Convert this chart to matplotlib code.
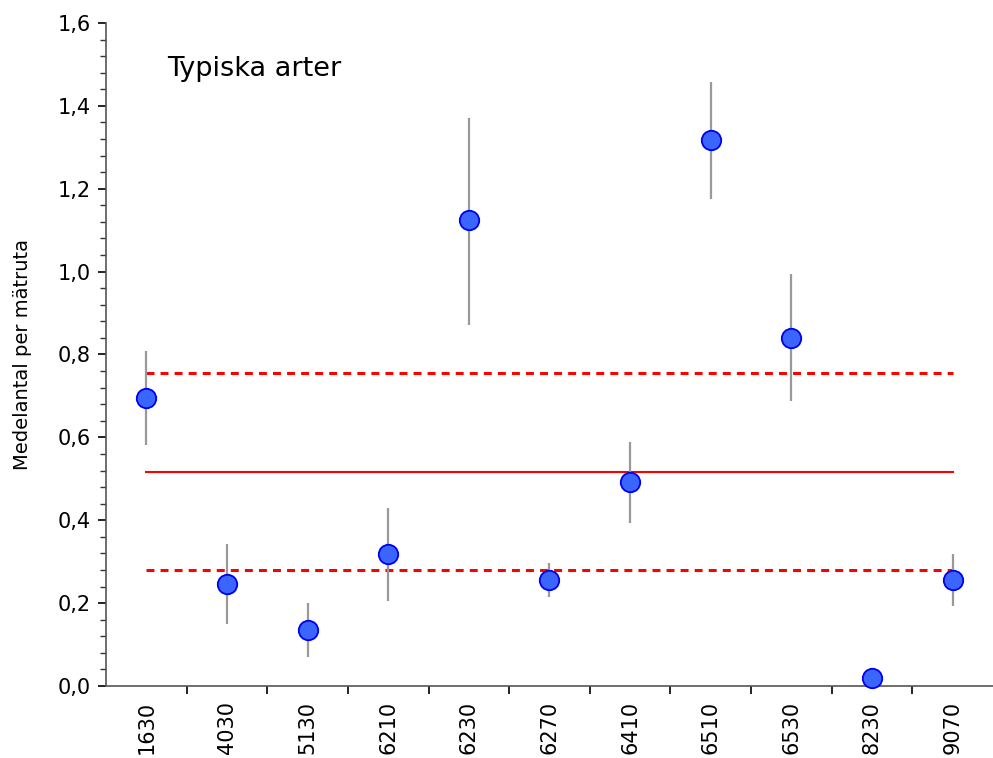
import matplotlib
matplotlib.use("Agg")
import matplotlib.pyplot as plt
from matplotlib.ticker import MultipleLocator, FuncFormatter

# Habitat codes and mean counts per plot with confidence interval limits
habitats = ["1630", "4030", "5130", "6210", "6230", "6270", "6410", "6510", "6530", "8230", "9070"]
means = [0.695, 0.246, 0.135, 0.319, 1.125, 0.256, 0.492, 1.318, 0.840, 0.019, 0.256]
upper = [0.808, 0.343, 0.200, 0.430, 1.371, 0.297, 0.589, 1.458, 0.994, 0.019, 0.319]
lower = [0.582, 0.150, 0.070, 0.205, 0.871, 0.215, 0.393, 1.175, 0.688, 0.019, 0.193]

overall_mean = 0.516
band_upper = 0.755
band_lower = 0.280

plt.rcParams["font.family"] = ["DejaVu Sans"]

fig = plt.figure(figsize=(9.93, 7.58), dpi=100)
ax = fig.add_axes([0.1067, 0.095, 0.8933, 0.8747])

x = list(range(len(habitats)))

# confidence intervals
for xi, lo, hi in zip(x, lower, upper):
    if hi > lo:
        ax.plot([xi, xi], [lo, hi], color="#999999", lw=1.6, zorder=2, solid_capstyle="butt")

# reference lines across the categories
ax.plot([x[0], x[-1]], [overall_mean, overall_mean], color="#ff0000", lw=1.5, zorder=1)
for yv in (band_upper, band_lower):
    ax.plot([x[0], x[-1]], [yv, yv], color="#ff0000", lw=2.2, zorder=1,
            linestyle=(0, (2.6, 2.0)))

ax.plot(x, means, linestyle="none", marker="o", markersize=14,
        markerfacecolor="#3a66ff", markeredgecolor="#0000ee", markeredgewidth=1.3,
        zorder=3, clip_on=False)

ax.set_xlim(-0.5, 10.5)
ax.set_ylim(0, 1.6)

for side in ("top", "right"):
    ax.spines[side].set_visible(False)
ax.spines["left"].set_color("#555555")
ax.spines["bottom"].set_color("#555555")
ax.spines["left"].set_linewidth(1.2)
ax.spines["bottom"].set_linewidth(1.2)

ax.yaxis.set_major_locator(MultipleLocator(0.2))
ax.yaxis.set_minor_locator(MultipleLocator(0.04))
ax.yaxis.set_major_formatter(FuncFormatter(lambda v, p: f"{v:.1f}".replace(".", ",")))
ax.tick_params(axis="y", which="major", length=6, width=1.2, labelsize=15, pad=5, colors="black")
ax.tick_params(axis="y", which="minor", length=4, width=1.0, colors="#333333")

ax.set_xticks([i + 0.5 for i in range(len(habitats) - 1)])
ax.set_xticklabels([])
ax.set_xticks(x, minor=True)
ax.set_xticklabels(habitats, minor=True, rotation=90, fontsize=15)
ax.tick_params(axis="x", which="major", length=6, width=1.2, colors="black")
ax.tick_params(axis="x", which="minor", length=0, pad=11)

ax.set_ylabel("Medelantal per mätruta", fontsize=14, labelpad=18)
ax.text(0.26, 1.49, "Typiska arter", fontsize=19.5, ha="left", va="center")

fig.savefig("out.png", dpi=100)
